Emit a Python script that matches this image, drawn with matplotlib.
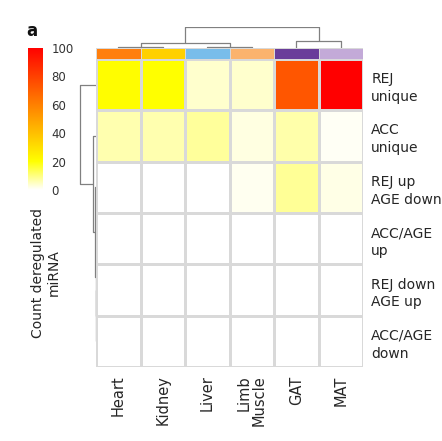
import numpy as np
import matplotlib
matplotlib.use("Agg")
import matplotlib.pyplot as plt
from matplotlib.colors import LinearSegmentedColormap, ListedColormap

# ---------------- data ----------------
tissues = ["Heart", "Kidney", "Liver", "Limb\nMuscle", "GAT", "MAT"]
tissue_colors = ["#ff7f0e", "#ffd000", "#78bdea", "#fbb36e", "#6a3d9a", "#c3aad8"]
categories = ["REJ\nunique", "ACC\nunique", "REJ up\nAGE down",
              "ACC/AGE\nup", "REJ down\nAGE up", "ACC/AGE\ndown"]
rej_unique = [21, 20, 4, 4, 73, 100]
acc_unique = [6.5, 6.5, 8, 2.5, 7, 1]
rej_up_age_down = [0, 0, 0, 1.5, 8.5, 2]
accage_up = [0, 0, 0, 0, 0, 0]
rej_down_age_up = [0, 0, 0, 0, 0, 0]
accage_down = [0, 0, 0, 0, 0, 0]
cbar_ticks = [0, 20, 40, 60, 80, 100]

# dendrogram linkages: (left, right, height); new nodes numbered from n
col_links = [(0, 1, 3), (2, 3, 3), (6, 7, 24), (4, 5, 33), (8, 9, 100)]
row_links = [(4, 5, 0), (3, 6, 0), (2, 7, 6), (1, 8, 17), (0, 9, 89)]

values = np.array([rej_unique, acc_unique, rej_up_age_down,
                   accage_up, rej_down_age_up, accage_down], dtype=float)

cmap = LinearSegmentedColormap.from_list(
    "wyr", [(0.0, "#ffffff"), (0.2, "#ffff00"), (1.0, "#ff0000")])

W, H = 442, 441
fig = plt.figure(figsize=(W / 100, H / 100), dpi=100)
fig.patch.set_facecolor("white")


def fax(x0, y0, x1, y1):
    return fig.add_axes([x0 / W, 1 - y1 / H, (x1 - x0) / W, (y1 - y0) / H])


grid_col = "#d9d9d9"
txt_col = "#262626"

# ---------------- heatmap ----------------
ax = fax(96, 59, 363, 367)
ax.pcolormesh(values, cmap=cmap, vmin=0, vmax=100,
              edgecolors=grid_col, linewidth=0.75)
ax.set_xlim(0, 6)
ax.set_ylim(6, 0)
for s in ax.spines.values():
    s.set_visible(False)
ax.set_xticks(np.arange(6) + 0.5)
ax.set_xticklabels(tissues, rotation=90, ha="center", va="top",
                   multialignment="right", fontsize=10.5, color=txt_col,
                   linespacing=1.0)
ax.yaxis.tick_right()
ax.set_yticks(np.arange(6) + 0.5)
ax.set_yticklabels(categories, fontsize=10, color=txt_col,
                   linespacing=1.35, ha="left")
ax.tick_params(length=0, pad=6)
ax.tick_params(axis="x", pad=6)

# ---------------- annotation bar ----------------
axa = fax(96, 47.5, 363, 59)
axa.pcolormesh(np.arange(6).reshape(1, -1), cmap=ListedColormap(tissue_colors),
               vmin=-0.5, vmax=5.5, edgecolors=grid_col, linewidth=0.6)
axa.set_xlim(0, 6)
axa.set_ylim(0, 1)
axa.axis("off")


# ---------------- dendrograms ----------------
def draw_dendro(axd, n, links, orient):
    pos = {i: i + 0.5 for i in range(n)}
    hgt = {i: 0.0 for i in range(n)}
    nid = n
    for a, b, h in links:
        pa, pb = pos[a], pos[b]
        xs = [pa, pa, pb, pb]
        ys = [hgt[a], h, h, hgt[b]]
        if orient == "top":
            axd.plot(xs, ys, color="#808080", lw=0.9, solid_capstyle="butt")
        else:
            axd.plot(ys, xs, color="#808080", lw=0.9, solid_capstyle="butt")
        pos[nid] = (pa + pb) / 2
        hgt[nid] = h
        nid += 1


axc = fax(96, 26.5, 363, 47.5)
draw_dendro(axc, 6, col_links, "top")
axc.set_xlim(0, 6)
axc.set_ylim(0, 103)
axc.axis("off")

axr = fax(78, 59, 96, 367)
draw_dendro(axr, 6, row_links, "left")
axr.set_ylim(6, 0)
axr.set_xlim(100, 0)
axr.axis("off")

# ---------------- colour bar ----------------
axb = fax(28, 48, 43, 190)
grad = np.linspace(0, 100, 256).reshape(-1, 1)
axb.imshow(grad, cmap=cmap, vmin=0, vmax=100, aspect="auto",
           origin="lower", extent=[0, 1, 0, 100])
axb.set_xlim(0, 1)
axb.set_ylim(0, 100)
for s in axb.spines.values():
    s.set_visible(False)
axb.set_xticks([])
axb.yaxis.tick_right()
axb.set_yticks(cbar_ticks)
axb.set_yticklabels([str(t) for t in cbar_ticks], fontsize=8.5, color="#333333")
axb.tick_params(length=0, pad=6)

fig.text(46 / W, 1 - 273 / H, "Count deregulated\nmiRNA", rotation=90,
         ha="center", va="center", multialignment="center",
         fontsize=10, color=txt_col, linespacing=1.2)

fig.text(26 / W, 1 - 22 / H, "a", fontsize=12, fontweight="bold",
         ha="left", va="top", color="#111111")

fig.savefig("out.png", dpi=100, facecolor="white")
